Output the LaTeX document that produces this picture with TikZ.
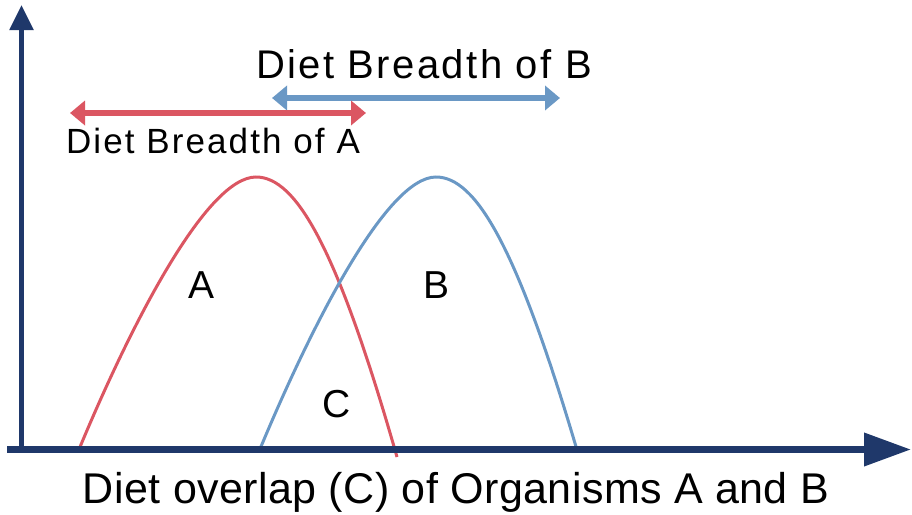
\documentclass[tikz,border=0pt]{standalone}
\usepackage{fontspec}
\setmainfont{Liberation Sans}
\newfontfamily\breadthfont[LetterSpace=6]{Liberation Sans}
\newfontfamily\axisfont[LetterSpace=1]{Liberation Sans}
\usetikzlibrary{arrows.meta}
\definecolor{axisnavy}{RGB}{31,56,106}
\definecolor{dietred}{RGB}{219,86,98}
\definecolor{dietblue}{RGB}{106,152,197}

\begin{document}
\begin{tikzpicture}[x=1pt,y=-1pt,
        axisline/.style={axisnavy},
        breadtharrow/.style={line width=6pt,{Triangle[length=15pt,width=24pt]}-{Triangle[length=15pt,width=24pt]}},
        dietcurve/.style={line width=3pt},
        letterlabel/.style={font=\fontsize{39}{44}\selectfont,anchor=base}]
        \useasboundingbox (0,0) rectangle (912,514);
        \coordinate (origin) at (21.5,449.5);
        \coordinate (ytip) at (21.5,5);
        \coordinate (xstart) at (7,449.5);
        \coordinate (xtip) at (911,449.5);
        \draw[dietred,dietcurve] (80,447) .. controls (130,327) and (206,177) .. (256,177) .. controls (296,177) and (337,247) .. (397,457);
        \draw[dietblue,dietcurve] (260,449) .. controls (310,329) and (386,177) .. (436,177) .. controls (476,177) and (517,247) .. (577,450);
        \draw[axisline,line width=5pt,-{Triangle[length=25pt,width=23pt]}] (origin) -- (ytip);
        \draw[axisline,line width=7pt,-{Triangle[length=47pt,width=32pt]}] (xstart) -- (xtip);
        \coordinate (bleft) at (272,98);
        \coordinate (bright) at (560,98);
        \coordinate (aleft) at (70,113);
        \coordinate (aright) at (366,113);
        \draw[dietblue,breadtharrow] (bleft) -- (bright);
        \draw[dietred,breadtharrow] (aleft) -- (aright);
        \node[font=\breadthfont\fontsize{40}{44}\selectfont,anchor=base] (breadthB) at (424,78) {Diet Breadth of B};
        \node[font=\breadthfont\fontsize{35}{40}\selectfont,anchor=base] (breadthA) at (213,153) {Diet Breadth of A};
        \node[font=\axisfont\fontsize{43}{47}\selectfont,anchor=base] (overlap) at (456,503) {Diet overlap (C) of Organisms A and B};
        \node[letterlabel] (labA) at (202,298) {A};
        \node[letterlabel] (labB) at (436,298) {B};
        \node[letterlabel] (labC) at (337,417) {C};
      \end{tikzpicture}
\end{document}
